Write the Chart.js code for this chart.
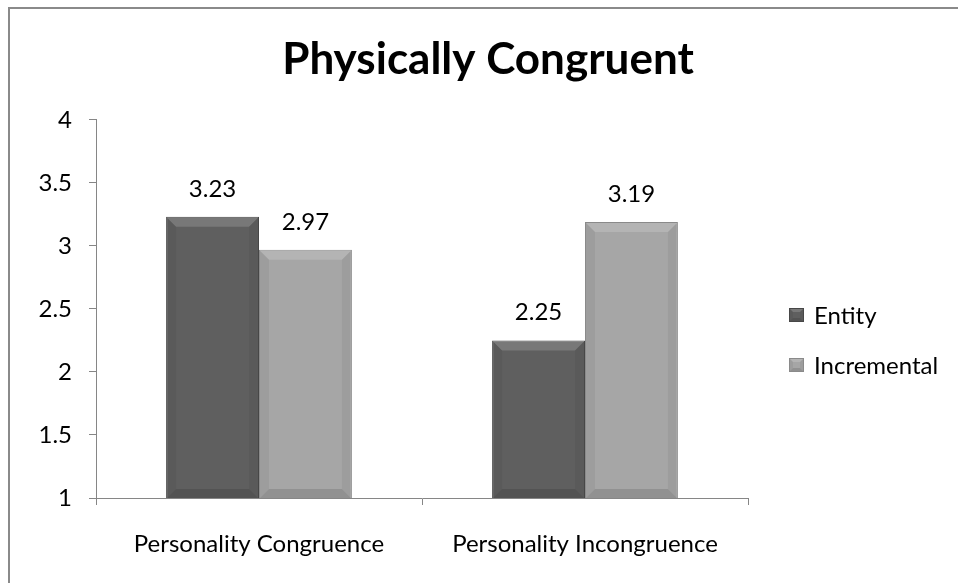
<!DOCTYPE html>
<html>
<head>
<meta charset="utf-8">
<script src="https://cdn.jsdelivr.net/npm/chart.js@4.4.1/dist/chart.umd.min.js"></script>
<style>
  html, body { margin: 0; padding: 0; background: #ffffff; }
  #wrap { position: relative; width: 958px; height: 583px; }
</style>
</head>
<body>
<div id="wrap"><canvas id="chart"></canvas></div>
<script>
  const categories = ['Personality Congruence', 'Personality Incongruence'];
  const entityValues = [3.23, 2.25];
  const incrementalValues = [2.97, 3.19];
  const seriesNames = ['Entity', 'Incremental'];
  const yTicks = [1, 1.5, 2, 2.5, 3, 3.5, 4];

  const fontFamily = 'Lato, "Open Sans", sans-serif';
  const axisColor = '#868686';
  const fills = ['#5f5f5f', '#a6a6a6'];
  const edges = ['#474747', '#8a8a8a'];

  // frame around the whole chart (only top and left edges are visible)
  const framePlugin = {
    id: 'frame',
    beforeDraw(chart) {
      const ctx = chart.ctx;
      ctx.save();
      ctx.strokeStyle = '#8a8a8a';
      ctx.lineWidth = 2;
      ctx.strokeRect(9, 8, 2000, 2000);
      ctx.restore();
    }
  };

  function bevel(ctx, left, top, right, bottom, b) {
    ctx.save();
    ctx.fillStyle = 'rgba(255,255,255,0.16)';
    ctx.beginPath();
    ctx.moveTo(left, top); ctx.lineTo(right, top);
    ctx.lineTo(right - b, top + b); ctx.lineTo(left + b, top + b);
    ctx.closePath(); ctx.fill();
    ctx.fillStyle = 'rgba(0,0,0,0.05)';
    ctx.beginPath();
    ctx.moveTo(left, top); ctx.lineTo(left + b, top + b);
    ctx.lineTo(left + b, bottom - b); ctx.lineTo(left, bottom);
    ctx.closePath(); ctx.fill();
    ctx.beginPath();
    ctx.moveTo(right, top); ctx.lineTo(right - b, top + b);
    ctx.lineTo(right - b, bottom - b); ctx.lineTo(right, bottom);
    ctx.closePath(); ctx.fill();
    ctx.fillStyle = 'rgba(0,0,0,0.12)';
    ctx.beginPath();
    ctx.moveTo(left, bottom); ctx.lineTo(right, bottom);
    ctx.lineTo(right - b, bottom - b); ctx.lineTo(left + b, bottom - b);
    ctx.closePath(); ctx.fill();
    ctx.restore();
  }

  // soft bevel on each bar, then the value above it
  const barPlugin = {
    id: 'barDeco',
    afterDatasetsDraw(chart) {
      const ctx = chart.ctx;
      const floor = chart.chartArea.bottom;
      chart.data.datasets.forEach((dataset, di) => {
        chart.getDatasetMeta(di).data.forEach((bar, i) => {
          const left = bar.x - bar.width / 2;
          const right = bar.x + bar.width / 2;
          const bottom = Math.min(bar.base, floor);
          bevel(ctx, left + 1, bar.y + 1, right - 1, bottom, 9);

          ctx.save();
          ctx.fillStyle = '#000000';
          ctx.font = '24px ' + fontFamily;
          ctx.textAlign = 'center';
          ctx.textBaseline = 'alphabetic';
          ctx.fillText(dataset.data[i].toFixed(2), bar.x, bar.y - 20);
          ctx.restore();
        });
      });
    }
  };

  // legend in the empty strip to the right of the plot
  const legendPlugin = {
    id: 'sideLegend',
    afterDraw(chart) {
      const ctx = chart.ctx;
      const bx = chart.chartArea.right + 41;
      chart.data.datasets.forEach((dataset, di) => {
        const cy = 315 + di * 50;
        const bw = 15, bh = 14;
        ctx.save();
        ctx.fillStyle = dataset.backgroundColor;
        ctx.fillRect(bx, cy - bh / 2, bw, bh);
        bevel(ctx, bx, cy - bh / 2, bx + bw, cy + bh / 2, 4);
        ctx.strokeStyle = dataset.borderColor;
        ctx.lineWidth = 1;
        ctx.strokeRect(bx + 0.5, cy - bh / 2 + 0.5, bw - 1, bh - 1);
        ctx.fillStyle = '#000000';
        ctx.font = '24px ' + fontFamily;
        ctx.textAlign = 'left';
        ctx.textBaseline = 'middle';
        ctx.fillText(dataset.label, bx + 25, cy + 1);
        ctx.restore();
      });
    }
  };

  new Chart(document.getElementById('chart'), {
    type: 'bar',
    data: {
      labels: categories,
      datasets: [
        {
          label: seriesNames[0],
          data: entityValues,
          backgroundColor: fills[0],
          borderColor: edges[0],
          borderWidth: 1
        },
        {
          label: seriesNames[1],
          data: incrementalValues,
          backgroundColor: fills[1],
          borderColor: edges[1],
          borderWidth: 1
        }
      ]
    },
    options: {
      responsive: true,
      maintainAspectRatio: false,
      animation: false,
      layout: { padding: { left: 18, right: 0, top: 0, bottom: 0 } },
      datasets: {
        bar: { barPercentage: 1, categoryPercentage: 0.57 }
      },
      plugins: {
        title: {
          display: true,
          text: 'Physically Congruent',
          color: '#000000',
          font: { family: fontFamily, size: 44, weight: 'bold', lineHeight: 1.2 },
          padding: { top: 33, bottom: 34 }
        },
        legend: { display: false },
        tooltip: { enabled: false }
      },
      scales: {
        x: {
          grid: {
            display: true,
            drawOnChartArea: false,
            drawTicks: true,
            tickLength: 7,
            offset: true,
            color: axisColor
          },
          border: { color: axisColor, width: 1 },
          ticks: {
            color: '#000000',
            font: { family: fontFamily, size: 24 },
            padding: 25,
            maxRotation: 0
          },
          afterFit(scale) { scale.height = 85; }
        },
        y: {
          min: 1,
          max: 4,
          afterBuildTicks(scale) {
            scale.ticks = yTicks.map((v) => ({ value: v }));
          },
          grid: {
            drawOnChartArea: false,
            drawTicks: true,
            tickLength: 7,
            color: axisColor
          },
          border: { color: axisColor, width: 1 },
          ticks: {
            color: '#000000',
            font: { family: fontFamily, size: 24 },
            padding: 17,
            callback: (value) => String(value)
          },
          afterFit(scale) { scale.width = 78; }
        },
        // empty strip on the right that holds the legend
        legendStrip: {
          type: 'linear',
          position: 'right',
          display: true,
          grid: { display: false },
          border: { display: false },
          ticks: { display: false },
          afterFit(scale) { scale.width = 210; }
        }
      }
    },
    plugins: [framePlugin, barPlugin, legendPlugin]
  });
</script>
</body>
</html>
